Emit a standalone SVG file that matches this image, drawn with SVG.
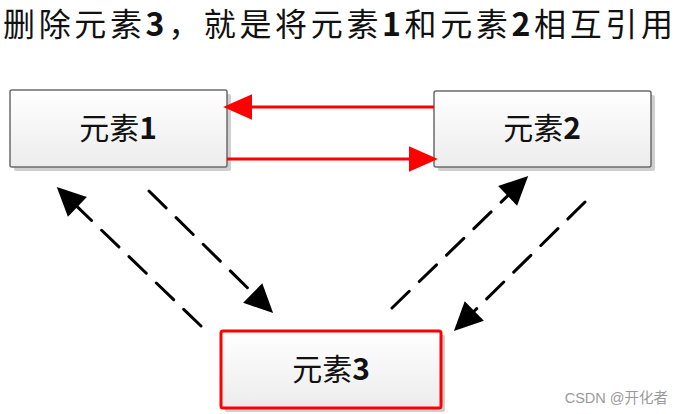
<svg xmlns="http://www.w3.org/2000/svg" width="681" height="414" viewBox="0 0 681 414">
  <style>
    .t { font-family: "Noto Sans CJK SC", "Noto Sans", sans-serif; fill: #111; }
    .d { font-weight: bold; }
    .box { fill: url(#g); stroke: #6b6b6b; stroke-width: 1.5; }
    .shadow { fill: #cfcfcf; }
    .red { stroke: #ff0000; stroke-width: 3; fill: none; }
    .dash { stroke: #000; stroke-width: 3; fill: none; stroke-dasharray: 24 14; stroke-linecap: round; }
  </style>
  <defs>
    <linearGradient id="g" x1="0" y1="0" x2="0" y2="1">
      <stop offset="0" stop-color="#ffffff"/>
      <stop offset="1" stop-color="#ececec"/>
    </linearGradient>
    <marker id="ar" markerUnits="userSpaceOnUse" markerWidth="30" markerHeight="30" viewBox="0 -12 26 24" refX="0" refY="0" orient="auto" overflow="visible">
      <path d="M0,-11 L25,0 L0,11 Z" fill="#ff0000"/>
    </marker>
    <marker id="ab" markerUnits="userSpaceOnUse" markerWidth="30" markerHeight="30" viewBox="0 -10 22 20" refX="0" refY="0" orient="auto" overflow="visible">
      <path d="M0,-10 L21,0 L0,10 Z" fill="#000"/>
    </marker>
  </defs>
  <rect width="681" height="414" fill="#fff"/>

  <text class="t" x="3" y="36" font-size="32" textLength="670" lengthAdjust="spacing">删除元素<tspan class="d">3</tspan>，就是将元素<tspan class="d">1</tspan>和元素<tspan class="d">2</tspan>相互引用</text>

  <g id="node1">
    <rect class="shadow" x="14" y="94" width="217" height="77" rx="2"/>
    <rect class="box" x="10" y="90" width="217" height="77" rx="2"/>
    <text class="t" x="118" y="139" font-size="30" text-anchor="middle">元素<tspan class="d">1</tspan></text>
  </g>
  <g id="node2">
    <rect class="shadow" x="438" y="95" width="217" height="76" rx="2"/>
    <rect class="box" x="434" y="91" width="217" height="76" rx="2"/>
    <text class="t" x="542" y="139" font-size="30" text-anchor="middle">元素<tspan class="d">2</tspan></text>
  </g>
  <g id="node3">
    <rect class="shadow" x="225" y="335" width="220" height="77" rx="2"/>
    <rect x="221" y="331" width="220" height="77" rx="2" fill="url(#g)" stroke="#ff0000" stroke-width="3"/>
    <text class="t" x="331" y="380" font-size="30" text-anchor="middle">元素<tspan class="d">3</tspan></text>
  </g>

  <g id="connectors">
    <path class="red" d="M434,107 L252,107" marker-end="url(#ar)"/>
    <path class="red" d="M227,159 L409,159" marker-end="url(#ar)"/>
    <path class="dash" d="M201,326 L77.4,206.9" marker-end="url(#ab)"/>
    <path class="dash" d="M149,191 L252.7,293" marker-end="url(#ab)"/>
    <path class="dash" d="M392,308 L507.6,195.9" marker-end="url(#ab)"/>
    <path class="dash" d="M585,202 L474.3,311" marker-end="url(#ab)"/>
  </g>

  <text x="668" y="403" font-family="'Liberation Sans', 'Noto Sans CJK SC', sans-serif" font-size="14.5" fill="#9a9a9a" text-anchor="end">CSDN @开化者</text>
</svg>
